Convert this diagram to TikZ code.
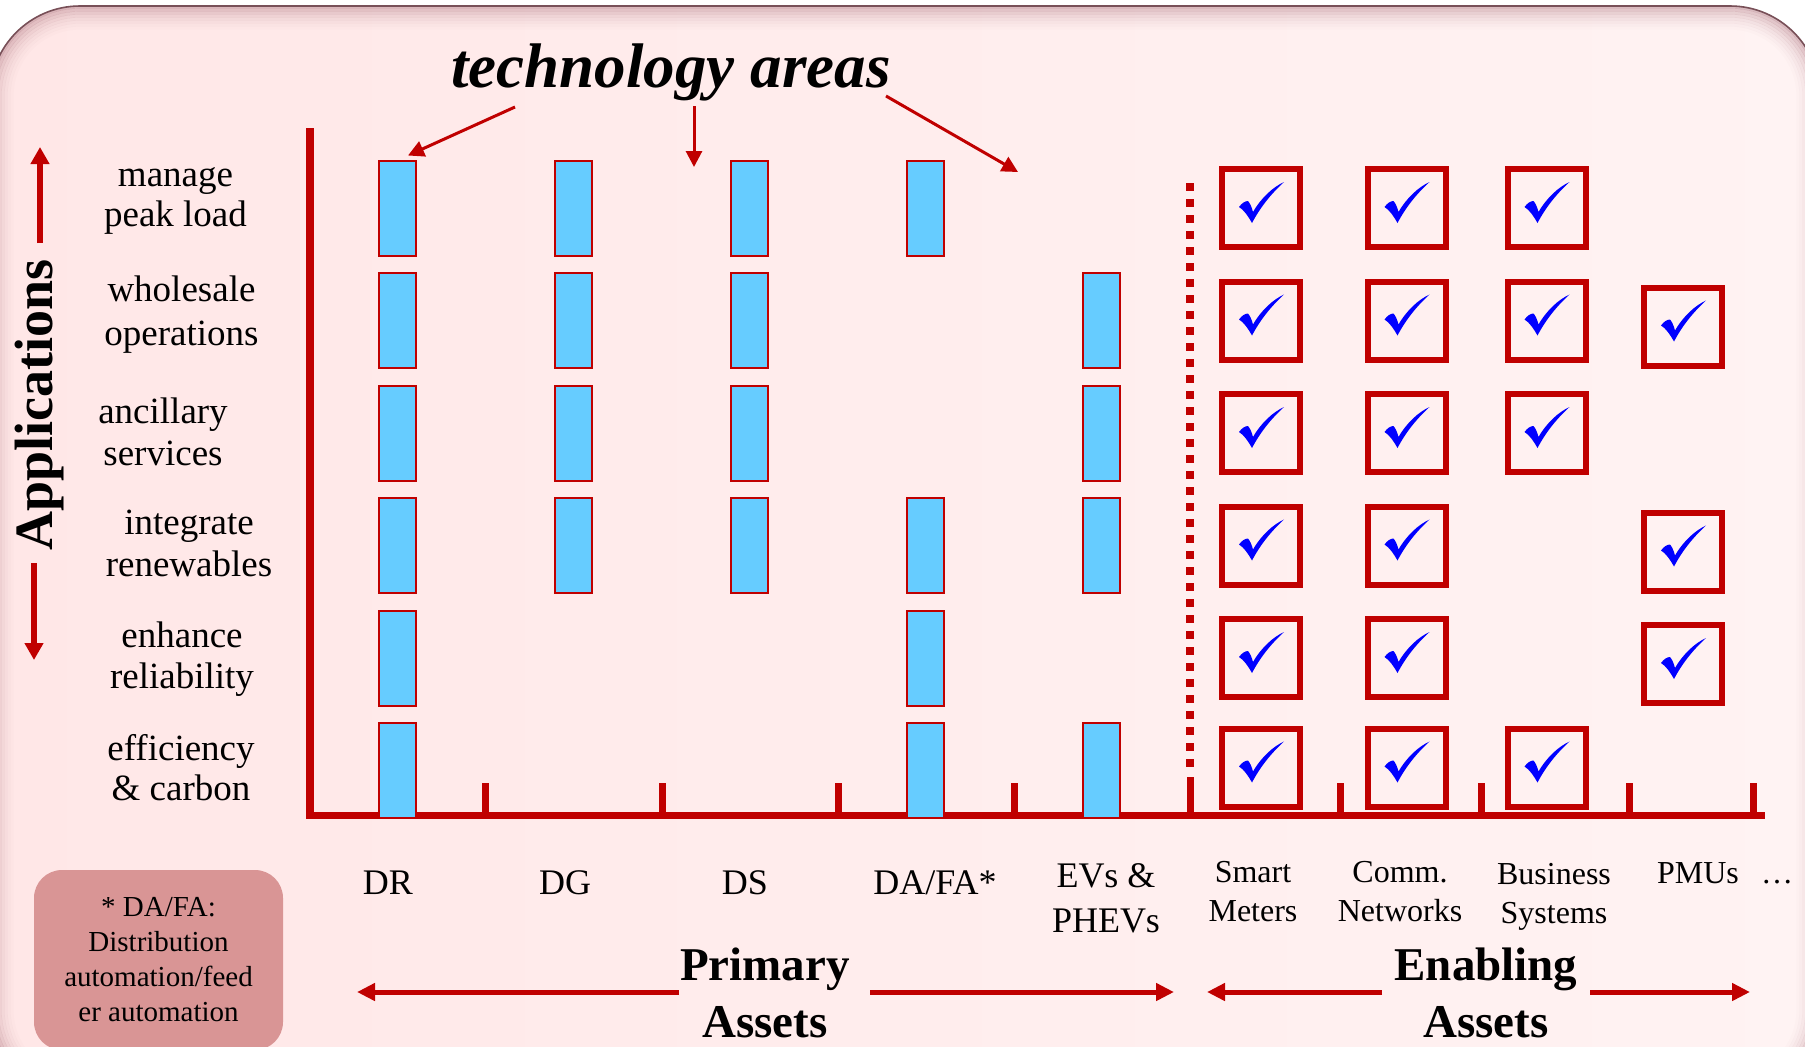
\documentclass[tikz,border=0pt]{standalone}
\usepackage{fontspec}
\setmainfont{Liberation Serif}
\usetikzlibrary{arrows.meta}

\definecolor{axisred}{RGB}{192,0,0}
\definecolor{barblue}{RGB}{102,204,255}
\definecolor{checkblue}{RGB}{0,0,255}
\definecolor{notefill}{RGB}{217,149,149}
\definecolor{pinkL}{RGB}{255,231,231}
\definecolor{pinkR}{RGB}{255,243,243}
\definecolor{rimdark}{RGB}{120,80,88}
\definecolor{bevelshade}{RGB}{175,120,130}

\tikzset{
  bar/.style={draw=axisred, line width=1pt, fill=barblue,
    minimum width=18.5pt, minimum height=47.5pt, inner sep=0pt},
  chkbox/.style={draw=axisred, line width=3pt, minimum size=39pt, inner sep=0pt},
  chkmark/.pic={
    \fill[checkblue] (-22,-1) .. controls (-19,-5) and (-16,-7) .. (-13,-7)
      .. controls (-11,-5) and (-9,0) .. (-8,4)
      .. controls (0,-10) and (12,-21) .. (23,-26)
      .. controls (11,-15) and (0,-2) .. (-9,15)
      .. controls (-13,8) and (-17,2) .. (-22,-1) -- cycle;
  },
  rowlab/.style={align=center, inner sep=0pt},
  collab/.style={inner sep=0pt, font=\fontsize{18}{22.5}\selectfont},
  enlab/.style={align=center, inner sep=0pt, font=\fontsize{16}{19.5}\selectfont},
  assetlab/.style={align=center, inner sep=0pt, font=\fontsize{23.5}{28.5}\selectfont\bfseries},
  notebox/.style={fill=notefill, rounded corners=14pt, minimum width=124.5pt,
    minimum height=90pt, align=center, inner sep=0pt,
    font=\fontsize{14.5}{17.5}\selectfont},
  thinarrow/.style={axisred, line width=1.5pt, -{Triangle[length=8pt,width=8pt]}},
  bigarrow/.style={axisred, line width=2.5pt, -{Triangle[length=9pt,width=8.5pt]}},
  apparrow/.style={axisred, line width=2.7pt, -{Triangle[length=8.5pt,width=9pt]}},
  axisline/.style={axisred, line width=3.75pt},
  axistick/.style={axisred, line width=3.5pt},
}

\begin{document}
\begin{tikzpicture}[x=0.5pt,y=-0.5pt]
\useasboundingbox (0,0) rectangle (1805,1046);
\fill[white] (0,0) rectangle (1805,1046);

% slide panel with bevelled rim
\shade[left color=pinkL, right color=pinkR, rounded corners=45pt]
  (-10,6) rectangle (1820,1100);
\foreach \d/\o [evaluate=\d as \rr using 45-0.5*\d] in
    {1/0.45,4/0.36,7/0.28,10/0.2,13/0.14,16/0.09,19/0.05,22/0.025}
  \draw[bevelshade, line width=1.6pt, opacity=\o, rounded corners=\rr pt]
    (-10+\d,6+\d) rectangle (1820-\d,1100-\d);
\draw[rimdark, line width=0.8pt, rounded corners=45pt] (-10,6) rectangle (1820,1100);

% axes and ticks
\draw[axisline] (310,128) -- (310,815.5) -- (1765,815.5);
\foreach \x in {485,662,838,1014,1340,1481,1629,1753}
  \draw[axistick] (\x,783) -- (\x,815.5);
\draw[axisred, line width=4pt, dash pattern=on 4pt off 4pt] (1190,183) -- (1190,767);
\draw[axistick] (1190,777) -- (1190,815.5);

% primary assets: bars per application row
\foreach \r/\y in {1/208,2/320.5,3/433,4/545.5,5/658,6/770.5}
  \node[bar] (dr\r) at (397.5,\y) {};
\foreach \r/\y in {1/208,2/320.5,3/433,4/545.5}
  \node[bar] (dg\r) at (573.5,\y) {};
\foreach \r/\y in {1/208,2/320.5,3/433,4/545.5}
  \node[bar] (ds\r) at (749.5,\y) {};
\foreach \r/\y in {1/208,4/545.5,5/658,6/770.5}
  \node[bar] (da\r) at (925.5,\y) {};
\foreach \r/\y in {2/320.5,3/433,4/545.5,6/770.5}
  \node[bar] (ev\r) at (1101.5,\y) {};

% enabling assets: check boxes
\foreach \r/\y in {1/208,2/320.5,3/433,4/545.5,5/658,6/767.5}{
  \node[chkbox] (sm\r) at (1261,\y) {};
  \pic at (sm\r) {chkmark};
  \node[chkbox] (cn\r) at (1406.5,\y) {};
  \pic at (cn\r) {chkmark};
}
\foreach \r/\y in {1/208,2/320.5,3/433,6/767.5}{
  \node[chkbox] (bs\r) at (1546.5,\y) {};
  \pic at (bs\r) {chkmark};
}
\foreach \r/\y in {2/326.5,4/551.5,5/664}{
  \node[chkbox] (pm\r) at (1683,\y) {};
  \pic at (pm\r) {chkmark};
}

% application labels
\node[rowlab, font=\fontsize{18.5}{20}\selectfont] (r1) at (175.5,200.5) {manage\\peak load};
\node[rowlab, font=\fontsize{18.5}{22}\selectfont] (r2) at (181.5,314.4) {wholesale\\operations};
\node[rowlab, font=\fontsize{18.5}{21}\selectfont] (r3) at (163,431.4) {ancillary\\services};
\node[rowlab, font=\fontsize{18.5}{21}\selectfont] (r4) at (189,543.5) {integrate\\renewables};
\node[rowlab, font=\fontsize{18.5}{20.5}\selectfont] (r5) at (182,659.5) {enhance\\reliability};
\node[rowlab, font=\fontsize{18.5}{20}\selectfont] (r6) at (181,768) {efficiency\\\& carbon};

% applications axis title with arrows
\node[font=\fontsize{27}{30}\selectfont\bfseries, rotate=90, anchor=base, inner sep=0pt]
  (apps) at (52,405) {Applications};
\coordinate (au0) at (40,243);
\coordinate (au1) at (40,147);
\coordinate (ad0) at (34,563);
\coordinate (ad1) at (34,660);
\draw[apparrow] (au0) -- (au1);
\draw[apparrow] (ad0) -- (ad1);

% technology column labels
\node[collab, anchor=base] (cDR) at (388,894) {DR};
\node[collab, anchor=base] (cDG) at (565,894) {DG};
\node[collab, anchor=base] (cDS) at (745,894) {DS};
\node[collab, anchor=base] (cDA) at (935,894) {DA/FA*};
\node[collab, align=center] (cEV) at (1106,898.4) {EVs \&\\PHEVs};
\node[enlab] (cSM) at (1253,891.5) {Smart\\Meters};
\node[enlab] (cCN) at (1400,891.5) {Comm.\\Networks};
\node[enlab] (cBS) at (1554,896.5) {Business\\Systems};
\node[enlab, anchor=base] (cPM) at (1698,883) {PMUs};
\node[enlab, anchor=base] (cMore) at (1777,883) {…};

% footnote box
\node[notebox] (note) at (158.5,960) {* DA/FA:\\Distribution\\automation/feed\\er automation};

% asset group labels with span arrows
\node[assetlab] (prim) at (765,993) {Primary\\Assets};
\node[assetlab] (enab) at (1486,993) {Enabling\\Assets};
\coordinate (pL0) at (679,992);
\coordinate (pL1) at (357,992);
\coordinate (pR0) at (870,992);
\coordinate (pR1) at (1174,992);
\coordinate (eL0) at (1382,992);
\coordinate (eL1) at (1207,992);
\coordinate (eR0) at (1590,992);
\coordinate (eR1) at (1750,992);
\draw[bigarrow] (pL0) -- (pL1);
\draw[bigarrow] (pR0) -- (pR1);
\draw[bigarrow] (eL0) -- (eL1);
\draw[bigarrow] (eR0) -- (eR1);

% heading with pointers
\node[font=\fontsize{31.5}{36}\selectfont\bfseries\itshape, anchor=base, inner sep=0pt]
  (title) at (671,87) {technology areas};
\coordinate (t1s) at (515,107);
\coordinate (t2s) at (694,106);
\coordinate (t2e) at (694,167);
\coordinate (t3s) at (886,96);
\coordinate (t3e) at (1018,172);
\draw[thinarrow] (t1s) -- ([xshift=-4.5pt,yshift=2pt]dr1.north east);
\draw[thinarrow] (t2s) -- (t2e);
\draw[thinarrow] (t3s) -- (t3e);
\end{tikzpicture}
\end{document}
